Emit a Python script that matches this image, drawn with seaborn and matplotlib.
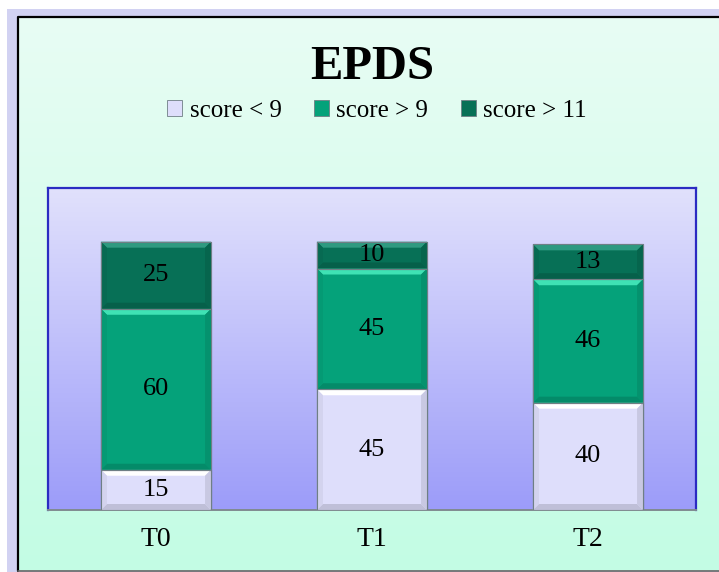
import numpy as np
import pandas as pd
import seaborn as sns
import matplotlib.pyplot as plt
from matplotlib.patches import Patch, Polygon
from matplotlib.colors import to_rgb

## EPDS score groups per time point, stacked bars

# Data
times = ["T0", "T1", "T2"]
below9 = [15, 45, 40]
above9 = [60, 45, 46]
above11 = [25, 10, 13]
series_names = ["score < 9", "score > 9", "score > 11"]

# Colours
col_light = "#DEDEFB"
col_green = "#05A27A"
col_dark = "#077056"
bevel_top = {col_light: "#FFFFFF", col_green: "#3FE2B4", col_dark: "#2E9A80"}

sns.set_style("white")
plt.rcParams["font.family"] = ["Liberation Serif", "DejaVu Serif"]
plt.rcParams["text.color"] = "black"
plt.rcParams["xtick.color"] = "black"

df = pd.DataFrame({"time": times, "below9": below9, "above9": above9, "above11": above11})
df["cum1"] = df["below9"]
df["cum2"] = df["below9"] + df["above9"]
df["cum3"] = df["cum2"] + df["above11"]

W, H = 719, 572
fig = plt.figure(figsize=(W / 100, H / 100), dpi=100, facecolor="white")

# Figure background: lavender frame + mint gradient
bg = fig.add_axes([0, 0, 1, 1], zorder=-5)
bg.set_xlim(0, W)
bg.set_ylim(H, 0)
bg.axis("off")
bg.add_patch(plt.Rectangle((7, 9), W, H, color="#D2D2F2", lw=0))
mint = np.linspace(0, 1, 256).reshape(-1, 1)
c0, c1 = np.array(to_rgb("#E8FDF4")), np.array(to_rgb("#C3FCE4"))
bg.imshow(c0 + (c1 - c0) * mint[:, :, None], extent=(18, W, 571, 17), aspect="auto", zorder=1)
bg.plot([18, 18, W], [571, 17, 17], color="black", lw=1.6, zorder=2)
bg.plot([18, W], [571, 571], color="#666666", lw=1.2, zorder=2)

# Plot area
ax = fig.add_axes([48 / W, 1 - 510 / H, (696 - 48) / W, (510 - 188) / H], zorder=1)
ax.set_facecolor("none")
ax.set_xlim(-0.5, 2.5)
ax.set_ylim(0, 120)
p0, p1 = np.array(to_rgb("#E1E1FC")), np.array(to_rgb("#9C9CF9"))
ax.imshow(p0 + (p1 - p0) * mint[:, :, None], extent=(-0.5, 2.5, 0, 120), aspect="auto", zorder=0)

bar_w = 0.51
for col, c in [("cum3", col_dark), ("cum2", col_green), ("cum1", col_light)]:
    sns.barplot(data=df, x="time", y=col, color=c, saturation=1, width=bar_w,
                edgecolor="#7A8A90", linewidth=0.8, ax=ax, zorder=2)

ax.set_xlim(-0.5, 2.5)
ax.set_ylim(0, 120)

# bevel effect on each segment
pos = ax.get_position()
dx = 6 / (pos.width * W / 3)
dy = 6 / (pos.height * H / 120)
bottoms = [np.zeros(3), df["cum1"].values, df["cum2"].values]
tops = [df["cum1"].values, df["cum2"].values, df["cum3"].values]
cols = [col_light, col_green, col_dark]
for b_arr, t_arr, c in zip(bottoms, tops, cols):
    base = np.array(to_rgb(c))
    for i in range(len(times)):
        x0, x1 = i - bar_w / 2, i + bar_w / 2
        b, t = b_arr[i], t_arr[i]
        dyy = min(dy, (t - b) / 2)
        ax.add_patch(Polygon([(x0, t), (x1, t), (x1 - dx, t - dyy), (x0 + dx, t - dyy)],
                             color=bevel_top[c], lw=0, zorder=3))
        ax.add_patch(Polygon([(x0, b), (x1, b), (x1 - dx, b + dyy), (x0 + dx, b + dyy)],
                             color=base * 0.86, lw=0, zorder=3))
        ax.add_patch(Polygon([(x0, b), (x0, t), (x0 + dx, t - dyy), (x0 + dx, b + dyy)],
                             color=base * 0.95, lw=0, zorder=3))
        ax.add_patch(Polygon([(x1, b), (x1, t), (x1 - dx, t - dyy), (x1 - dx, b + dyy)],
                             color=base * 0.9, lw=0, zorder=3))
        ax.add_patch(plt.Rectangle((x0, b), bar_w, t - b, fill=False,
                                   edgecolor="#6F7F85", lw=0.8, zorder=4))

# value labels
for b_arr, t_arr in zip(bottoms, tops):
    for i in range(len(times)):
        ax.text(i, (b_arr[i] + t_arr[i]) / 2, f"{t_arr[i] - b_arr[i]:.0f}",
                ha="center", va="center", fontsize=19, color="black", zorder=5)

ax.set_xlabel("")
ax.set_ylabel("")
ax.set_yticks([])
ax.set_xticks(range(len(times)))
ax.set_xticklabels(times, fontsize=20, color="black")
ax.tick_params(axis="x", length=0, pad=12)
for side in ["left", "top", "right"]:
    ax.spines[side].set_color("#2B2BC2")
    ax.spines[side].set_linewidth(1.6)
    ax.spines[side].set_visible(True)
ax.spines["bottom"].set_color("#808A90")
ax.spines["bottom"].set_linewidth(1.4)

fig.text(372 / W, 1 - 67 / H, "EPDS", ha="center", va="center", fontsize=35,
         fontweight="bold", color="black")

handles = [Patch(facecolor=c, edgecolor="#6F7F85", lw=0.6) for c in cols]
leg = fig.legend(handles, series_names, loc="center", bbox_to_anchor=(377 / W, 1 - 111 / H),
                 ncol=3, frameon=False, fontsize=18, handlelength=0.6, handleheight=0.6,
                 handletextpad=0.3, columnspacing=1.3)
for t in leg.get_texts():
    t.set_color("black")

fig.savefig("out.png", dpi=100)
